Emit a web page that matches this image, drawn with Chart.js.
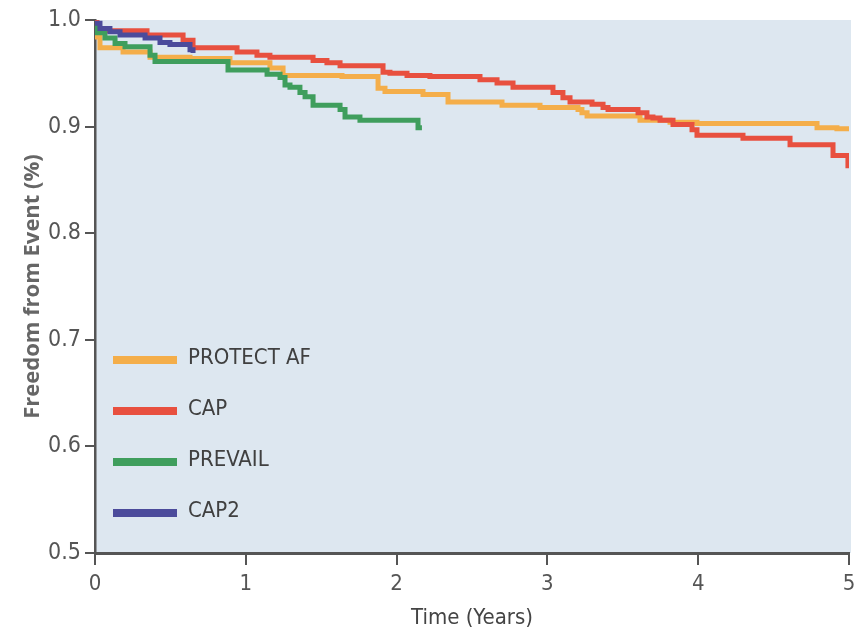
<!DOCTYPE html>
<html>
<head>
<meta charset="utf-8">
<script src="https://cdn.jsdelivr.net/npm/chart.js@4.4.1/dist/chart.umd.min.js"></script>
<style>
  html, body { margin: 0; padding: 0; background: #ffffff; }
  #wrap { width: 858px; height: 634px; }
</style>
</head>
<body>
<div id="wrap"><canvas id="c" width="858" height="634"></canvas></div>
<script>
// ---- data (time in years, freedom from event) ----
const seriesNames = ["PROTECT AF", "CAP", "PREVAIL", "CAP2"];

const protectTimes = [0, 0.013, 0.033, 0.186, 0.365, 0.630, 0.895, 1.160, 1.247, 1.638, 1.877, 1.923, 2.175, 2.341, 2.699, 2.951, 3.203, 3.229, 3.263, 3.614, 3.813, 3.992, 4.788, 4.920, 5.0];
const protectSurv  = [0.995, 0.984, 0.974, 0.970, 0.965, 0.964, 0.960, 0.955, 0.948, 0.947, 0.936, 0.933, 0.930, 0.923, 0.920, 0.918, 0.916, 0.913, 0.910, 0.906, 0.904, 0.903, 0.899, 0.898, 0.898];

const capTimes = [0, 0.013, 0.345, 0.584, 0.650, 0.942, 1.074, 1.160, 1.446, 1.538, 1.625, 1.910, 1.956, 2.069, 2.221, 2.553, 2.666, 2.772, 3.037, 3.103, 3.150, 3.296, 3.369, 3.402, 3.601, 3.660, 3.700, 3.747, 3.833, 3.959, 3.992, 4.297, 4.609, 4.894, 4.993];
const capSurv  = [0.998, 0.990, 0.986, 0.981, 0.974, 0.970, 0.967, 0.965, 0.962, 0.960, 0.957, 0.951, 0.950, 0.948, 0.947, 0.944, 0.941, 0.937, 0.932, 0.927, 0.923, 0.921, 0.918, 0.916, 0.913, 0.909, 0.908, 0.906, 0.902, 0.897, 0.892, 0.889, 0.883, 0.873, 0.861];

const prevailTimes = [0, 0.013, 0.066, 0.133, 0.199, 0.365, 0.398, 0.882, 1.141, 1.227, 1.260, 1.293, 1.359, 1.393, 1.446, 1.625, 1.658, 1.757, 2.142, 2.168];
const prevailSurv  = [0.995, 0.988, 0.983, 0.978, 0.975, 0.967, 0.961, 0.953, 0.949, 0.946, 0.939, 0.937, 0.932, 0.928, 0.920, 0.916, 0.909, 0.906, 0.899, 0.899];

const cap2Times = [0, 0.033, 0.099, 0.166, 0.332, 0.431, 0.497, 0.630, 0.650];
const cap2Surv  = [0.997, 0.992, 0.989, 0.986, 0.983, 0.979, 0.977, 0.972, 0.969];

const yTickValues = [0.5, 0.6, 0.7, 0.8, 0.9, 1.0];
const xTickValues = [0, 1, 2, 3, 4, 5];

const colors = ["#f4ae4a", "#e8503f", "#3f9e5d", "#4b4b9b"];

function toPoints(t, s) { return t.map((x, i) => ({ x: x, y: s[i] })); }

const NARROW = "'Liberation Sans Narrow', 'DejaVu Sans Condensed', 'Open Sans', sans-serif";

const bgPlugin = {
  id: 'plotBg',
  beforeDraw(chart) {
    const { ctx, chartArea: a } = chart;
    ctx.save();
    ctx.fillStyle = '#dde7f0';
    ctx.fillRect(a.left, a.top, a.right - a.left + 2, a.bottom - a.top);
    ctx.restore();
  }
};

const legendPlugin = {
  id: 'insideLegend',
  afterDatasetsDraw(chart) {
    const { ctx, chartArea: a } = chart;
    ctx.save();
    const order = [0, 1, 2, 3];
    order.forEach((di, k) => {
      const ds = chart.data.datasets[di];
      const y = a.top + 340 + k * 51;
      ctx.strokeStyle = ds.borderColor;
      ctx.lineWidth = 8;
      ctx.lineCap = 'butt';
      ctx.beginPath();
      ctx.moveTo(a.left + 18, y);
      ctx.lineTo(a.left + 82, y);
      ctx.stroke();
      ctx.fillStyle = '#404040';
      ctx.font = "22px " + NARROW;
      ctx.textBaseline = 'middle';
      ctx.textAlign = 'left';
      ctx.fillText(ds.label, a.left + 93, y - 2);
    });
    ctx.restore();
  }
};

const datasets = [
  { label: seriesNames[0], data: toPoints(protectTimes, protectSurv), borderColor: colors[0], order: 4 },
  { label: seriesNames[1], data: toPoints(capTimes, capSurv), borderColor: colors[1], order: 3 },
  { label: seriesNames[2], data: toPoints(prevailTimes, prevailSurv), borderColor: colors[2], order: 2 },
  { label: seriesNames[3], data: toPoints(cap2Times, cap2Surv), borderColor: colors[3], order: 1 }
].map(d => Object.assign(d, { stepped: 'before', borderWidth: 5, pointRadius: 0, fill: false, tension: 0, borderCapStyle: 'butt', borderJoinStyle: 'miter' }));

new Chart(document.getElementById('c'), {
  type: 'line',
  data: { datasets: datasets },
  options: {
    responsive: false,
    animation: false,
    devicePixelRatio: 1,
    layout: { padding: { top: 20, right: 9, left: 0, bottom: 0 } },
    plugins: { legend: { display: false }, tooltip: { enabled: false } },
    scales: {
      x: {
        type: 'linear', min: 0, max: 5,
        afterBuildTicks(scale) { scale.ticks = xTickValues.map(v => ({ value: v })); },
        afterFit(scale) { scale.height = 81; scale.paddingRight = 0; },
        border: { display: true, color: '#555555', width: 3 },
        grid: { drawOnChartArea: false, drawTicks: true, tickLength: 12, color: '#555555', lineWidth: 2 },
        ticks: { color: '#555555', padding: 6, font: { family: NARROW, size: 22 }, callback: v => String(v), maxRotation: 0 },
        title: { display: true, text: 'Time (Years)', color: '#444444', font: { family: NARROW, size: 22 }, padding: { top: 0, bottom: 3 } }
      },
      y: {
        type: 'linear', min: 0.5, max: 1.0,
        afterBuildTicks(scale) { scale.ticks = yTickValues.map(v => ({ value: v })); },
        afterFit(scale) { scale.width = 95; },
        border: { display: true, color: '#555555', width: 2.5 },
        grid: { drawOnChartArea: false, drawTicks: true, tickLength: 10, color: '#555555', lineWidth: 2 },
        ticks: { color: '#555555', padding: 4, font: { family: NARROW, size: 23 }, callback: v => v.toFixed(1) },
        title: { display: true, text: 'Freedom from Event (%)', color: '#666666', font: { family: "'Open Sans', sans-serif", size: 22, weight: 'bold' }, padding: { top: 20, bottom: 0 } }
      }
    }
  },
  plugins: [bgPlugin, legendPlugin]
});
</script>
</body>
</html>
